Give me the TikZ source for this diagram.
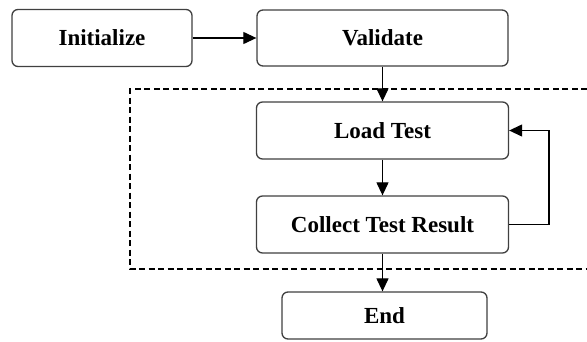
\documentclass[tikz,border=0pt]{standalone}
\usepackage{fontspec}
\setmainfont{Liberation Serif}
\usetikzlibrary{arrows.meta}
\begin{document}
\begin{tikzpicture}[x=1pt,y=-1pt,
  box/.style={draw=black!75, line width=1.3pt, rounded corners=6pt, fill=white,
    inner sep=0pt, font=\fontsize{23}{27}\selectfont\bfseries},
  conn/.style={line width=1.2pt, -{Triangle[length=13pt,width=12pt]}},
  group/.style={line width=1.3pt, dash pattern=on 6pt off 3.5pt}]
\useasboundingbox (0,0) rectangle (587,341);
\draw[group] (587,89) -- (130,89) -- (130,269) -- (587,269);
\node[box, minimum width=180pt, minimum height=57pt] (init) at (102,38) {Initialize};
\node[box, minimum width=251pt, minimum height=56pt] (val) at (382.5,38) {Validate};
\node[box, minimum width=252pt, minimum height=57pt] (load) at (382.5,130.5) {Load Test};
\node[box, minimum width=252pt, minimum height=57pt] (coll) at (382.5,224.5) {Collect Test Result};
\node[box, minimum width=205pt, minimum height=47pt] (end) at (384.5,315.5) {End};
\coordinate (fb) at (549,224);
\draw[conn] (init) -- (val);
\draw[conn] (val) -- (load);
\draw[conn] (load) -- (coll);
\draw[conn] (coll) -- (coll |- end.north);
\draw[conn] (coll.east) -- (coll.east -| fb) |- (load.east);
\end{tikzpicture}
\end{document}
